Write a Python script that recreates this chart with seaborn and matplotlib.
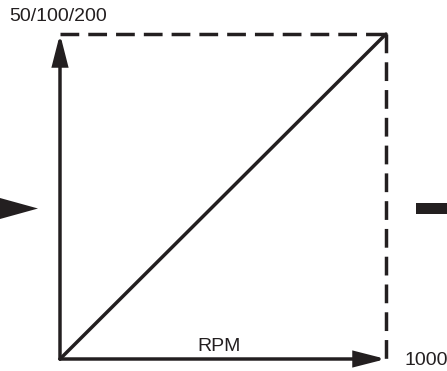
# Linear RPM -> output scaling diagram (50/100/200 full scale at 1000 RPM)

import matplotlib
matplotlib.use("Agg")
import matplotlib.pyplot as plt
from matplotlib.patches import Polygon, Rectangle
import seaborn as sb

# data
rpm = [0, 1000]            # x span, RPM
output = [0, 100]          # y span, % of full scale
top_label = "50/100/200"
x_label = "RPM"
x_max_label = "1000"

INK = "#231f20"
LW = 2.5
DASH = (0, (5.4, 2.6))

sb.set_theme(style="white")
plt.rcParams["font.family"] = ["Liberation Sans", "DejaVu Sans"]

W, H = 447, 371
fig = plt.figure(figsize=(W / 100, H / 100), dpi=100)
# plot box: x 60..386 px, y 34..359 px (from top)
ax = fig.add_axes([60 / W, (H - 359) / H, 326 / W, 325 / H])
ax.set_xlim(rpm[0], rpm[1])
ax.set_ylim(output[0], output[1])
ax.axis("off")

# diagonal characteristic
sb.lineplot(x=rpm, y=output, ax=ax, color=INK, lw=LW, clip_on=False, estimator=None)

# dashed frame, top and right
sb.lineplot(x=rpm, y=[output[1], output[1]], ax=ax, color=INK, lw=LW,
            linestyle=DASH, clip_on=False, estimator=None)
sb.lineplot(x=[rpm[1], rpm[1]], y=[output[1], output[0]], ax=ax, color=INK,
            lw=LW, linestyle=DASH, clip_on=False, sort=False, estimator=None)

# axis arrows
arrow = dict(arrowstyle="-|>,head_length=18,head_width=4.6", mutation_scale=1,
             color=INK, lw=LW, shrinkA=0, shrinkB=0, joinstyle="miter")
ax.annotate("", xy=(rpm[0], output[1]), xytext=(rpm[0], output[0]),
            arrowprops=arrow, annotation_clip=False)
ax.annotate("", xy=(rpm[1], output[0]), xytext=(rpm[0], output[0]),
            arrowprops=arrow, annotation_clip=False)

# labels
fig.text(9 / W, 1 - 21 / H, top_label, fontsize=14, color=INK, va="baseline", ha="left")
fig.text(219 / W, 1 - 351 / H, x_label, fontsize=14, color=INK, va="baseline", ha="center")
fig.text(404 / W, 1 - 365 / H, x_max_label, fontsize=14, color=INK, va="baseline", ha="left")

# flow markers at left and right edges
fig.patches.append(Polygon([(0, 1 - 198 / H), (38 / W, 1 - 208.5 / H), (0, 1 - 219 / H)],
                           closed=True, transform=fig.transFigure, color=INK, lw=0))
fig.patches.append(Rectangle((416 / W, 1 - 214 / H), 31 / W, 11 / H,
                             transform=fig.transFigure, color=INK, lw=0))

fig.savefig("out.png", dpi=100, facecolor="white")
